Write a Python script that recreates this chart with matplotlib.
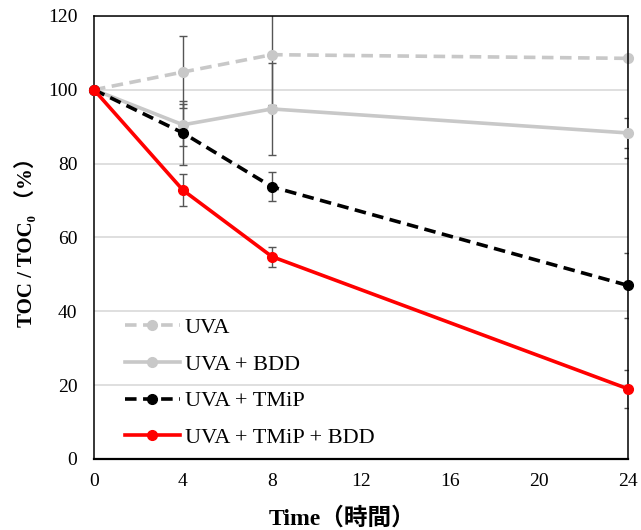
import matplotlib
matplotlib.use("Agg")
import matplotlib.pyplot as plt

# TOC removal over time for each treatment
hours = [0, 4, 8, 24]

uva = [100, 104.8, 109.5, 108.5]
uva_err = [0, 9.8, 13.6, 27.0]

uva_bdd = [100, 90.5, 94.8, 88.3]
uva_bdd_err = [0, 5.7, 12.5, 4.0]

uva_tmip = [100, 88.3, 73.7, 47.0]
uva_tmip_err = [0, 8.6, 3.9, 8.8]

uva_tmip_bdd = [100, 72.8, 54.8, 19.0]
uva_tmip_bdd_err = [0, 4.3, 2.7, 5.1]

labels = ["UVA", "UVA + BDD", "UVA + TMiP", "UVA + TMiP + BDD"]
xticks = [0, 4, 8, 12, 16, 20, 24]
yticks = [0, 20, 40, 60, 80, 100, 120]

serif = ["Liberation Serif", "Noto Sans CJK JP"]
plt.rcParams["font.family"] = serif

fig = plt.figure(figsize=(6.41, 5.30), dpi=100)
ax = fig.add_axes([0.1466, 0.134, 0.8331, 0.836])

series = [
    (uva, uva_err, "#c8c8c8", (0, (3.2, 1.8)), 2),
    (uva_bdd, uva_bdd_err, "#c8c8c8", "solid", 3),
    (uva_tmip, uva_tmip_err, "black", (0, (3.2, 1.8)), 4),
    (uva_tmip_bdd, uva_tmip_bdd_err, "#ff0000", "solid", 5),
]

# error bars first so the lines sit on top
for vals, err, col, ls, z in series:
    ax.errorbar(hours, vals, yerr=err, fmt="none", ecolor="#555555",
                elinewidth=1.0, capsize=3.2, capthick=1.0, zorder=1)

for (vals, err, col, ls, z), lab in zip(series, labels):
    ax.plot(hours, vals, color=col, linestyle=ls, linewidth=2.6,
            marker="o", markersize=7, label=lab, zorder=z, clip_on=False)

ax.set_xlim(0, 24)
ax.set_ylim(0, 120)
ax.set_xticks(xticks)
ax.set_yticks(yticks)
ax.tick_params(length=0, labelsize=14)
ax.tick_params(axis="y", pad=12)
ax.tick_params(axis="x", pad=10)
ax.yaxis.grid(True, color="#d9d9d9", linewidth=1.2)
ax.set_axisbelow(True)
for s in ax.spines.values():
    s.set_color("black")
    s.set_linewidth(1.1)
ax.spines["bottom"].set_linewidth(1.6)

ax.set_ylabel("TOC / TOC\u2080 （%）", fontsize=15, fontweight="bold",
              labelpad=8)
ax.set_xlabel("Time（時間）", fontsize=17, fontweight="bold")
ax.xaxis.set_label_coords(0.465, -0.108)

ax.legend(loc="lower left", bbox_to_anchor=(0.02, -0.02), frameon=False,
          fontsize=16, handlelength=2.5, handletextpad=0.2,
          labelspacing=0.72)

fig.savefig("out.png", dpi=100)
